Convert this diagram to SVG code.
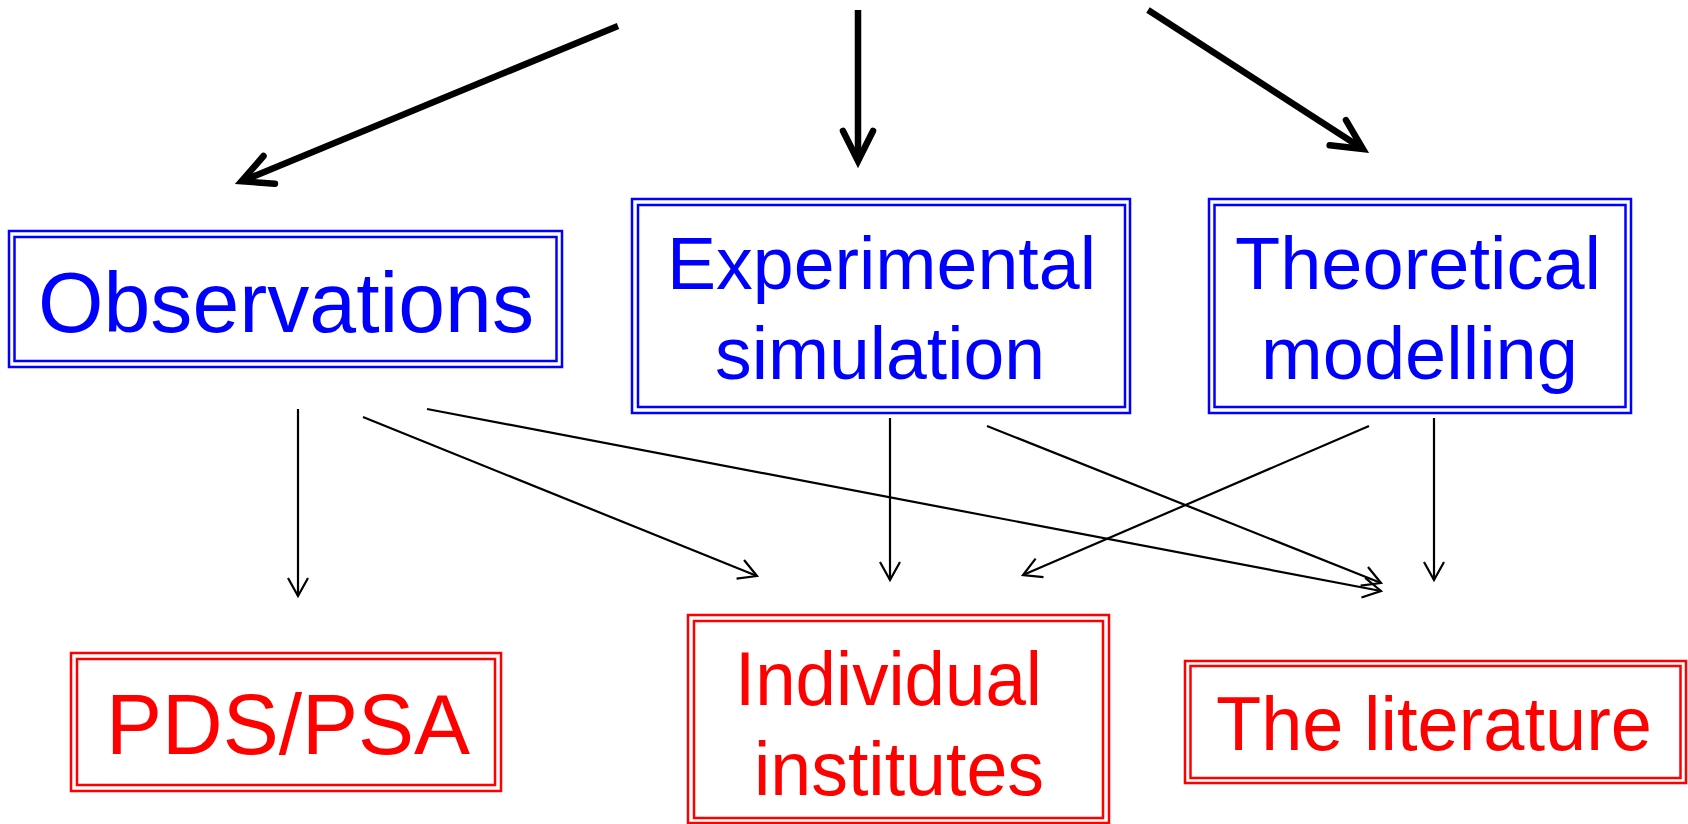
<svg xmlns="http://www.w3.org/2000/svg" width="1688" height="824" viewBox="0 0 1688 824">
<style>
  .bb { fill: none; stroke: #0000FF; stroke-width: 2.5; }
  .rb { fill: none; stroke: #FF0000; stroke-width: 2.5; }
  .bt { fill: #0000FF; font-family: "Liberation Sans", Arial, sans-serif; text-anchor: middle; }
  .rt { fill: #FF0000; font-family: "Liberation Sans", Arial, sans-serif; text-anchor: middle; }
  .thick { stroke: #000; stroke-width: 6.5; fill: none; marker-end: url(#bigHead); }
  .thin { stroke: #000; stroke-width: 2.2; fill: none; marker-end: url(#smallHead); }
</style>
<defs>
  <marker id="bigHead" markerUnits="userSpaceOnUse" orient="auto" markerWidth="60" markerHeight="60" refX="40" refY="25" viewBox="0 0 60 50" overflow="visible">
    <path d="M10,10 L40,25 L10,40" fill="none" stroke="#000" stroke-width="6.5" stroke-linecap="round" stroke-linejoin="miter" stroke-miterlimit="10"/>
  </marker>
  <marker id="smallHead" markerUnits="userSpaceOnUse" orient="auto" markerWidth="40" markerHeight="40" refX="30" refY="20" viewBox="0 0 40 40" overflow="visible">
    <path d="M12,10 L30,20 L12,30" fill="none" stroke="#000" stroke-width="2.2" stroke-linejoin="miter" stroke-miterlimit="10"/>
  </marker>
</defs>

<g id="connectors">
  <line class="thick" x1="618" y1="26" x2="241.5" y2="181.3"/>
  <line class="thick" x1="858" y1="10" x2="858" y2="161"/>
  <line class="thick" x1="1148" y1="10" x2="1363" y2="149"/>
  <line class="thin" x1="298" y1="409" x2="298" y2="596"/>
  <line class="thin" x1="363" y1="417" x2="757" y2="576"/>
  <line class="thin" x1="427" y1="409" x2="1381" y2="591"/>
  <line class="thin" x1="890" y1="418" x2="890" y2="580"/>
  <line class="thin" x1="987" y1="426" x2="1381" y2="583"/>
  <line class="thin" x1="1369" y1="426" x2="1023" y2="575"/>
  <line class="thin" x1="1434" y1="418" x2="1434" y2="580"/>
</g>

<g id="observations">
  <rect class="bb" x="9" y="231" width="553" height="136"/>
  <rect class="bb" x="14.5" y="237" width="542" height="124"/>
  <text class="bt" x="286" y="332" font-size="86" textLength="496" lengthAdjust="spacingAndGlyphs">Observations</text>
</g>

<g id="experimental">
  <rect class="bb" x="632" y="199" width="498" height="214"/>
  <rect class="bb" x="638" y="205" width="487" height="202"/>
  <text class="bt" x="881.5" y="289" font-size="75" textLength="429" lengthAdjust="spacingAndGlyphs">Experimental</text>
  <text class="bt" x="880" y="379" font-size="75" textLength="330" lengthAdjust="spacingAndGlyphs">simulation</text>
</g>

<g id="theoretical">
  <rect class="bb" x="1209" y="199" width="422" height="214"/>
  <rect class="bb" x="1214.5" y="205" width="411" height="202"/>
  <text class="bt" x="1418" y="289" font-size="75" textLength="366" lengthAdjust="spacingAndGlyphs">Theoretical</text>
  <text class="bt" x="1419.5" y="379" font-size="75" textLength="317" lengthAdjust="spacingAndGlyphs">modelling</text>
</g>

<g id="pds">
  <rect class="rb" x="71" y="653" width="430" height="138"/>
  <rect class="rb" x="77" y="659" width="418" height="126"/>
  <text class="rt" x="288" y="754" font-size="86" textLength="364" lengthAdjust="spacingAndGlyphs">PDS/PSA</text>
</g>

<g id="institutes">
  <rect class="rb" x="688" y="615" width="421" height="208"/>
  <rect class="rb" x="694" y="621" width="409" height="197"/>
  <text class="rt" x="888.5" y="705" font-size="76" textLength="307" lengthAdjust="spacingAndGlyphs">Individual</text>
  <text class="rt" x="899" y="795" font-size="76" textLength="290" lengthAdjust="spacingAndGlyphs">institutes</text>
</g>

<g id="literature">
  <rect class="rb" x="1185" y="661" width="501" height="122"/>
  <rect class="rb" x="1190.5" y="666" width="490" height="112"/>
  <text class="rt" x="1434" y="750" font-size="76" textLength="436" lengthAdjust="spacingAndGlyphs">The literature</text>
</g>
</svg>
